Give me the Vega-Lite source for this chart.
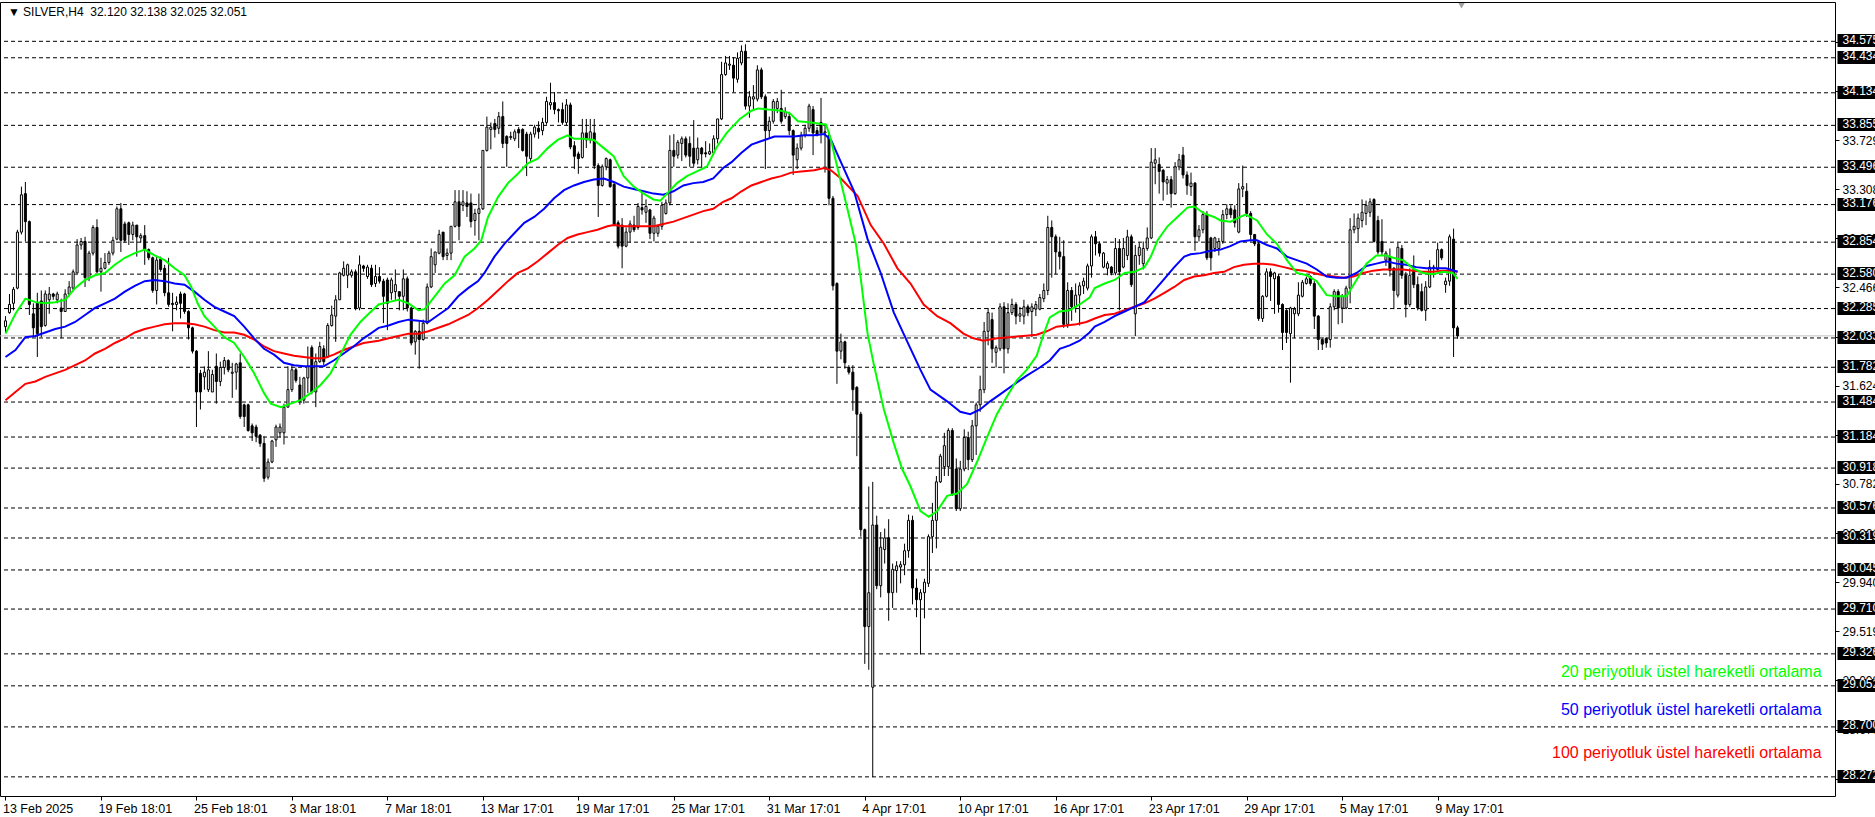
{
"$schema": "https://vega.github.io/schema/vega-lite/v6.json",
"width": 1835, "height": 794,
"autosize": {"type": "none"},
"padding": {"left": 0, "top": 2, "right": 40, "bottom": 21},
"background": "white",
"config": {
  "view": {"stroke": "black", "strokeWidth": 1},
  "font": "Liberation Sans",
  "axis": {"labelFont": "Liberation Sans", "labelFontSize": 12, "labelColor": "black", "tickColor": "black", "grid": false, "domain": false}
},
"datasets": {
"header": [{"t":"▼  SILVER,H4 \u00a032.120 32.138 32.025 32.051"}],
"levels": [{"p":34.575},{"p":34.434},{"p":34.134},{"p":33.855},{"p":33.496},{"p":33.176},{"p":32.854},{"p":32.580},{"p":32.285},{"p":32.033},{"p":31.782},{"p":31.484},{"p":31.184},{"p":30.918},{"p":30.576},{"p":30.319},{"p":30.045},{"p":29.710},{"p":29.326},{"p":29.052},{"p":28.700},{"p":28.272}],
"bid": [{"p":32.051}],
"candles": [
{"i":0,"o":32.13,"h":32.22,"l":32.08,"c":32.18},{"i":1,"o":32.25,"h":32.41,"l":32.24,"c":32.32},{"i":2,"o":32.33,"h":32.47,"l":32.27,"c":32.45},{"i":3,"o":32.46,"h":32.96,"l":32.45,"c":32.94},{"i":4,"o":32.94,"h":33.33,"l":32.92,"c":33.26},{"i":5,"o":33.27,"h":33.37,"l":32.86,"c":33.03},{"i":6,"o":33.03,"h":33.04,"l":32.23,"c":32.32},{"i":7,"o":32.24,"h":32.33,"l":32.04,"c":32.12},{"i":8,"o":32.33,"h":32.42,"l":31.87,"c":32.07},{"i":9,"o":32.35,"h":32.44,"l":32.04,"c":32.13},
{"i":10,"o":32.14,"h":32.44,"l":32.13,"c":32.41},{"i":11,"o":32.36,"h":32.47,"l":32.24,"c":32.41},{"i":12,"o":32.41,"h":32.42,"l":32.36,"c":32.39},{"i":13,"o":32.36,"h":32.43,"l":32.33,"c":32.41},{"i":14,"o":32.29,"h":32.37,"l":32.03,"c":32.26},{"i":15,"o":32.26,"h":32.45,"l":32.26,"c":32.41},{"i":16,"o":32.41,"h":32.52,"l":32.39,"c":32.47},{"i":17,"o":32.46,"h":32.62,"l":32.44,"c":32.60},{"i":18,"o":32.59,"h":32.88,"l":32.59,"c":32.83},{"i":19,"o":32.83,"h":32.89,"l":32.79,"c":32.86},
{"i":20,"o":32.86,"h":32.90,"l":32.47,"c":32.55},{"i":21,"o":32.55,"h":32.78,"l":32.52,"c":32.76},{"i":22,"o":32.76,"h":33.00,"l":32.74,"c":32.98},{"i":23,"o":32.98,"h":33.05,"l":32.59,"c":32.60},{"i":24,"o":32.60,"h":32.72,"l":32.43,"c":32.63},{"i":25,"o":32.63,"h":32.76,"l":32.62,"c":32.68},{"i":26,"o":32.68,"h":32.78,"l":32.66,"c":32.76},{"i":27,"o":32.76,"h":32.90,"l":32.74,"c":32.87},{"i":28,"o":32.88,"h":33.16,"l":32.87,"c":33.14},{"i":29,"o":33.14,"h":33.19,"l":32.77,"c":32.87},
{"i":30,"o":33.01,"h":33.03,"l":32.85,"c":32.87},{"i":31,"o":33.02,"h":33.03,"l":32.83,"c":32.92},{"i":32,"o":32.92,"h":33.03,"l":32.87,"c":33.00},{"i":33,"o":33.00,"h":33.00,"l":32.73,"c":32.90},{"i":34,"o":32.89,"h":32.93,"l":32.85,"c":32.91},{"i":35,"o":32.91,"h":33.00,"l":32.66,"c":32.79},{"i":36,"o":32.79,"h":32.80,"l":32.70,"c":32.72},{"i":37,"o":32.72,"h":32.73,"l":32.42,"c":32.44},{"i":38,"o":32.44,"h":32.73,"l":32.32,"c":32.70},{"i":39,"o":32.71,"h":32.73,"l":32.60,"c":32.62},
{"i":40,"o":32.63,"h":32.66,"l":32.39,"c":32.42},{"i":41,"o":32.42,"h":32.72,"l":32.30,"c":32.32},{"i":42,"o":32.33,"h":32.42,"l":32.09,"c":32.32},{"i":43,"o":32.32,"h":32.39,"l":32.27,"c":32.34},{"i":44,"o":32.41,"h":32.43,"l":32.20,"c":32.33},{"i":45,"o":32.41,"h":32.42,"l":32.24,"c":32.26},{"i":46,"o":32.26,"h":32.27,"l":32.02,"c":32.12},{"i":47,"o":32.12,"h":32.13,"l":31.90,"c":31.92},{"i":48,"o":31.92,"h":31.93,"l":31.27,"c":31.57},{"i":49,"o":31.73,"h":31.76,"l":31.42,"c":31.57},
{"i":50,"o":31.70,"h":31.79,"l":31.59,"c":31.74},{"i":51,"o":31.59,"h":31.92,"l":31.57,"c":31.76},{"i":52,"o":31.57,"h":31.76,"l":31.57,"c":31.72},{"i":53,"o":31.79,"h":31.90,"l":31.47,"c":31.66},{"i":54,"o":31.66,"h":31.83,"l":31.62,"c":31.78},{"i":55,"o":31.78,"h":31.87,"l":31.72,"c":31.84},{"i":56,"o":31.84,"h":31.85,"l":31.74,"c":31.76},{"i":57,"o":31.73,"h":31.82,"l":31.52,"c":31.74},{"i":58,"o":31.74,"h":31.82,"l":31.59,"c":31.81},{"i":59,"o":31.82,"h":31.90,"l":31.34,"c":31.36},
{"i":60,"o":31.46,"h":31.47,"l":31.27,"c":31.36},{"i":61,"o":31.46,"h":31.47,"l":31.23,"c":31.24},{"i":62,"o":31.28,"h":31.30,"l":31.15,"c":31.22},{"i":63,"o":31.27,"h":31.29,"l":31.14,"c":31.19},{"i":64,"o":31.20,"h":31.21,"l":31.10,"c":31.13},{"i":65,"o":31.13,"h":31.19,"l":30.80,"c":30.83},{"i":66,"o":30.84,"h":31.00,"l":30.82,"c":30.97},{"i":67,"o":30.97,"h":31.16,"l":30.96,"c":31.15},{"i":68,"o":31.16,"h":31.29,"l":31.10,"c":31.27},{"i":69,"o":31.22,"h":31.30,"l":31.18,"c":31.27},
{"i":70,"o":31.22,"h":31.47,"l":31.12,"c":31.44},{"i":71,"o":31.44,"h":31.79,"l":31.44,"c":31.59},{"i":72,"o":31.59,"h":31.80,"l":31.57,"c":31.76},{"i":73,"o":31.76,"h":31.78,"l":31.65,"c":31.67},{"i":74,"o":31.63,"h":31.70,"l":31.46,"c":31.49},{"i":75,"o":31.50,"h":31.70,"l":31.47,"c":31.69},{"i":76,"o":31.69,"h":31.96,"l":31.56,"c":31.79},{"i":77,"o":31.95,"h":31.97,"l":31.55,"c":31.57},{"i":78,"o":31.57,"h":31.90,"l":31.44,"c":31.83},{"i":79,"o":31.83,"h":32.00,"l":31.82,"c":31.96},
{"i":80,"o":31.94,"h":31.97,"l":31.80,"c":31.83},{"i":81,"o":31.87,"h":32.16,"l":31.86,"c":32.14},{"i":82,"o":32.14,"h":32.31,"l":32.13,"c":32.23},{"i":83,"o":32.22,"h":32.40,"l":32.00,"c":32.36},{"i":84,"o":32.36,"h":32.60,"l":32.36,"c":32.59},{"i":85,"o":32.57,"h":32.69,"l":32.56,"c":32.63},{"i":86,"o":32.57,"h":32.67,"l":32.46,"c":32.66},{"i":87,"o":32.57,"h":32.62,"l":32.55,"c":32.60},{"i":88,"o":32.60,"h":32.62,"l":32.27,"c":32.29},{"i":89,"o":32.29,"h":32.74,"l":32.27,"c":32.66},
{"i":90,"o":32.65,"h":32.66,"l":32.60,"c":32.63},{"i":91,"o":32.56,"h":32.66,"l":32.54,"c":32.64},{"i":92,"o":32.63,"h":32.66,"l":32.47,"c":32.49},{"i":93,"o":32.50,"h":32.66,"l":32.47,"c":32.56},{"i":94,"o":32.56,"h":32.64,"l":32.50,"c":32.52},{"i":95,"o":32.52,"h":32.54,"l":32.16,"c":32.39},{"i":96,"o":32.53,"h":32.55,"l":32.10,"c":32.33},{"i":97,"o":32.42,"h":32.55,"l":32.36,"c":32.53},{"i":98,"o":32.43,"h":32.62,"l":32.36,"c":32.49},{"i":99,"o":32.43,"h":32.43,"l":32.27,"c":32.39},
{"i":100,"o":32.39,"h":32.62,"l":32.27,"c":32.54},{"i":101,"o":32.54,"h":32.56,"l":32.26,"c":32.29},{"i":102,"o":32.29,"h":32.30,"l":31.97,"c":31.99},{"i":103,"o":32.00,"h":32.10,"l":31.89,"c":32.09},{"i":104,"o":32.09,"h":32.17,"l":31.77,"c":32.02},{"i":105,"o":32.02,"h":32.19,"l":32.01,"c":32.16},{"i":106,"o":32.16,"h":32.50,"l":32.15,"c":32.47},{"i":107,"o":32.47,"h":32.80,"l":32.46,"c":32.73},{"i":108,"o":32.66,"h":32.77,"l":32.59,"c":32.77},{"i":109,"o":32.76,"h":32.96,"l":32.75,"c":32.92},
{"i":110,"o":32.94,"h":32.94,"l":32.70,"c":32.73},{"i":111,"o":32.74,"h":32.80,"l":32.70,"c":32.76},{"i":112,"o":32.76,"h":32.99,"l":32.70,"c":32.99},{"i":113,"o":32.99,"h":33.30,"l":32.98,"c":33.20},{"i":114,"o":33.20,"h":33.30,"l":32.87,"c":32.99},{"i":115,"o":33.17,"h":33.30,"l":33.12,"c":33.20},{"i":116,"o":33.19,"h":33.29,"l":33.07,"c":33.16},{"i":117,"o":33.19,"h":33.27,"l":32.98,"c":33.03},{"i":118,"o":33.04,"h":33.14,"l":32.91,"c":33.10},{"i":119,"o":33.10,"h":33.27,"l":32.87,"c":33.14},
{"i":120,"o":33.14,"h":33.64,"l":33.13,"c":33.64},{"i":121,"o":33.64,"h":33.93,"l":33.63,"c":33.84},{"i":122,"o":33.82,"h":33.88,"l":33.65,"c":33.84},{"i":123,"o":33.87,"h":33.91,"l":33.75,"c":33.82},{"i":124,"o":33.83,"h":33.97,"l":33.78,"c":33.93},{"i":125,"o":33.93,"h":34.06,"l":33.66,"c":33.70},{"i":126,"o":33.76,"h":33.77,"l":33.50,"c":33.70},{"i":127,"o":33.75,"h":33.80,"l":33.73,"c":33.76},{"i":128,"o":33.74,"h":33.82,"l":33.72,"c":33.80},{"i":129,"o":33.82,"h":33.84,"l":33.66,"c":33.79},
{"i":130,"o":33.82,"h":33.83,"l":33.63,"c":33.64},{"i":131,"o":33.78,"h":33.80,"l":33.42,"c":33.59},{"i":132,"o":33.57,"h":33.80,"l":33.55,"c":33.78},{"i":133,"o":33.78,"h":33.86,"l":33.75,"c":33.84},{"i":134,"o":33.83,"h":33.89,"l":33.74,"c":33.80},{"i":135,"o":33.81,"h":33.92,"l":33.77,"c":33.88},{"i":136,"o":33.88,"h":34.10,"l":33.86,"c":34.06},{"i":137,"o":34.03,"h":34.22,"l":33.99,"c":34.05},{"i":138,"o":34.05,"h":34.14,"l":33.95,"c":33.99},{"i":139,"o":33.99,"h":34.00,"l":33.88,"c":33.98},
{"i":140,"o":33.99,"h":34.05,"l":33.86,"c":33.88},{"i":141,"o":33.88,"h":34.08,"l":33.85,"c":34.03},{"i":142,"o":34.03,"h":34.05,"l":33.65,"c":33.67},{"i":143,"o":33.68,"h":33.72,"l":33.48,"c":33.59},{"i":144,"o":33.61,"h":33.63,"l":33.44,"c":33.57},{"i":145,"o":33.58,"h":33.91,"l":33.57,"c":33.79},{"i":146,"o":33.79,"h":33.91,"l":33.66,"c":33.73},{"i":147,"o":33.73,"h":33.91,"l":33.70,"c":33.80},{"i":148,"o":33.79,"h":33.91,"l":33.48,"c":33.51},{"i":149,"o":33.51,"h":33.53,"l":33.07,"c":33.34},
{"i":150,"o":33.34,"h":33.52,"l":33.33,"c":33.50},{"i":151,"o":33.50,"h":33.58,"l":33.47,"c":33.57},{"i":152,"o":33.56,"h":33.57,"l":33.32,"c":33.33},{"i":153,"o":33.35,"h":33.36,"l":32.99,"c":33.00},{"i":154,"o":33.02,"h":33.04,"l":32.80,"c":32.82},{"i":155,"o":33.00,"h":33.06,"l":32.63,"c":32.82},{"i":156,"o":32.82,"h":32.98,"l":32.81,"c":32.94},{"i":157,"o":32.94,"h":33.04,"l":32.85,"c":33.01},{"i":158,"o":33.00,"h":33.08,"l":32.94,"c":32.96},{"i":159,"o":32.98,"h":33.19,"l":32.96,"c":33.16},
{"i":160,"o":33.15,"h":33.29,"l":33.09,"c":33.13},{"i":161,"o":33.11,"h":33.22,"l":33.02,"c":33.16},{"i":162,"o":33.13,"h":33.14,"l":32.88,"c":32.93},{"i":163,"o":32.93,"h":33.08,"l":32.86,"c":33.06},{"i":164,"o":32.93,"h":33.00,"l":32.90,"c":32.99},{"i":165,"o":32.99,"h":33.20,"l":32.96,"c":33.17},{"i":166,"o":33.10,"h":33.22,"l":33.09,"c":33.19},{"i":167,"o":33.19,"h":33.77,"l":33.17,"c":33.64},{"i":168,"o":33.64,"h":33.78,"l":33.50,"c":33.59},{"i":169,"o":33.60,"h":33.73,"l":33.57,"c":33.71},
{"i":170,"o":33.70,"h":33.76,"l":33.55,"c":33.74},{"i":171,"o":33.74,"h":33.76,"l":33.58,"c":33.60},{"i":172,"o":33.70,"h":33.76,"l":33.50,"c":33.59},{"i":173,"o":33.66,"h":33.90,"l":33.50,"c":33.53},{"i":174,"o":33.56,"h":33.75,"l":33.52,"c":33.66},{"i":175,"o":33.66,"h":33.67,"l":33.49,"c":33.61},{"i":176,"o":33.62,"h":33.72,"l":33.58,"c":33.61},{"i":177,"o":33.61,"h":33.70,"l":33.60,"c":33.63},{"i":178,"o":33.62,"h":33.77,"l":33.60,"c":33.74},{"i":179,"o":33.74,"h":33.91,"l":33.70,"c":33.91},
{"i":180,"o":33.91,"h":34.40,"l":33.90,"c":34.29},{"i":181,"o":34.29,"h":34.45,"l":34.28,"c":34.39},{"i":182,"o":34.37,"h":34.45,"l":34.33,"c":34.38},{"i":183,"o":34.37,"h":34.44,"l":34.14,"c":34.26},{"i":184,"o":34.25,"h":34.48,"l":34.22,"c":34.43},{"i":185,"o":34.39,"h":34.54,"l":34.37,"c":34.49},{"i":186,"o":34.49,"h":34.55,"l":33.99,"c":34.02},{"i":187,"o":34.02,"h":34.15,"l":33.92,"c":34.10},{"i":188,"o":34.08,"h":34.20,"l":33.98,"c":34.10},{"i":189,"o":34.08,"h":34.37,"l":34.06,"c":34.33},
{"i":190,"o":34.33,"h":34.35,"l":34.08,"c":34.10},{"i":191,"o":34.10,"h":34.12,"l":33.48,"c":33.81},{"i":192,"o":33.81,"h":33.93,"l":33.75,"c":33.89},{"i":193,"o":33.89,"h":34.08,"l":33.87,"c":34.06},{"i":194,"o":34.00,"h":34.09,"l":33.96,"c":34.06},{"i":195,"o":34.00,"h":34.16,"l":33.87,"c":33.89},{"i":196,"o":33.93,"h":34.01,"l":33.91,"c":33.97},{"i":197,"o":33.93,"h":33.97,"l":33.77,"c":33.81},{"i":198,"o":33.81,"h":33.82,"l":33.43,"c":33.60},{"i":199,"o":33.56,"h":33.70,"l":33.48,"c":33.66},
{"i":200,"o":33.66,"h":33.80,"l":33.64,"c":33.77},{"i":201,"o":33.77,"h":33.86,"l":33.75,"c":33.83},{"i":202,"o":33.83,"h":34.04,"l":33.80,"c":34.02},{"i":203,"o":33.99,"h":34.02,"l":33.60,"c":33.79},{"i":204,"o":33.81,"h":33.84,"l":33.76,"c":33.77},{"i":205,"o":33.88,"h":34.09,"l":33.70,"c":33.79},{"i":206,"o":33.79,"h":33.87,"l":33.45,"c":33.80},{"i":207,"o":33.77,"h":33.80,"l":33.17,"c":33.23},{"i":208,"o":33.23,"h":33.25,"l":32.44,"c":32.48},{"i":209,"o":32.50,"h":32.51,"l":31.64,"c":31.92},
{"i":210,"o":31.92,"h":32.07,"l":31.85,"c":32.00},{"i":211,"o":32.00,"h":32.01,"l":31.77,"c":31.82},{"i":212,"o":31.78,"h":31.80,"l":31.72,"c":31.74},{"i":213,"o":31.74,"h":31.80,"l":31.41,"c":31.59},{"i":214,"o":31.61,"h":31.62,"l":31.02,"c":31.38},{"i":215,"o":31.38,"h":31.40,"l":30.33,"c":30.39},{"i":216,"o":30.39,"h":30.40,"l":29.24,"c":29.56},{"i":217,"o":29.56,"h":30.76,"l":29.19,"c":29.85},{"i":218,"o":29.04,"h":30.80,"l":28.27,"c":30.43},{"i":219,"o":30.43,"h":30.51,"l":29.88,"c":29.91},
{"i":220,"o":29.91,"h":30.37,"l":29.81,"c":30.24},{"i":221,"o":30.22,"h":30.40,"l":30.10,"c":30.32},{"i":222,"o":30.32,"h":30.48,"l":29.61,"c":29.85},{"i":223,"o":29.85,"h":30.10,"l":29.72,"c":30.05},{"i":224,"o":30.04,"h":30.12,"l":29.85,"c":30.08},{"i":225,"o":30.07,"h":30.12,"l":29.93,"c":30.09},{"i":226,"o":30.09,"h":30.27,"l":30.00,"c":30.21},{"i":227,"o":30.21,"h":30.52,"l":30.15,"c":30.47},{"i":228,"o":30.47,"h":30.51,"l":29.75,"c":29.89},{"i":229,"o":29.89,"h":29.97,"l":29.64,"c":29.79},
{"i":230,"o":29.79,"h":29.88,"l":29.32,"c":29.85},{"i":231,"o":29.85,"h":29.97,"l":29.63,"c":29.94},{"i":232,"o":29.93,"h":30.35,"l":29.90,"c":30.33},{"i":233,"o":30.33,"h":30.62,"l":30.19,"c":30.47},{"i":234,"o":30.47,"h":30.85,"l":30.23,"c":30.80},{"i":235,"o":30.80,"h":31.04,"l":30.79,"c":31.02},{"i":236,"o":30.93,"h":31.22,"l":30.85,"c":31.11},{"i":237,"o":30.93,"h":31.26,"l":30.85,"c":31.24},{"i":238,"o":31.24,"h":31.26,"l":30.68,"c":30.70},{"i":239,"o":30.91,"h":31.00,"l":30.55,"c":30.57},
{"i":240,"o":30.57,"h":30.98,"l":30.55,"c":30.91},{"i":241,"o":30.91,"h":31.25,"l":30.89,"c":31.18},{"i":242,"o":31.18,"h":31.23,"l":30.90,"c":30.99},{"i":243,"o":30.99,"h":31.33,"l":30.97,"c":31.28},{"i":244,"o":31.28,"h":31.48,"l":31.03,"c":31.46},{"i":245,"o":31.46,"h":31.71,"l":31.40,"c":31.59},{"i":246,"o":31.59,"h":32.17,"l":31.56,"c":32.09},{"i":247,"o":32.09,"h":32.29,"l":31.97,"c":32.25},{"i":248,"o":32.19,"h":32.25,"l":31.82,"c":31.94},{"i":249,"o":31.91,"h":31.97,"l":31.78,"c":31.95},
{"i":250,"o":31.94,"h":32.33,"l":31.92,"c":32.30},{"i":251,"o":32.30,"h":32.34,"l":31.73,"c":31.94},{"i":252,"o":31.94,"h":32.33,"l":31.90,"c":32.25},{"i":253,"o":32.25,"h":32.37,"l":32.23,"c":32.32},{"i":254,"o":32.32,"h":32.34,"l":32.15,"c":32.22},{"i":255,"o":32.22,"h":32.30,"l":32.17,"c":32.24},{"i":256,"o":32.22,"h":32.36,"l":32.15,"c":32.30},{"i":257,"o":32.30,"h":32.32,"l":32.22,"c":32.25},{"i":258,"o":32.26,"h":32.33,"l":32.04,"c":32.30},{"i":259,"o":32.28,"h":32.35,"l":32.22,"c":32.32},
{"i":260,"o":32.28,"h":32.41,"l":32.27,"c":32.38},{"i":261,"o":32.37,"h":32.50,"l":32.34,"c":32.44},{"i":262,"o":32.44,"h":33.08,"l":32.40,"c":32.98},{"i":263,"o":32.98,"h":33.04,"l":32.55,"c":32.90},{"i":264,"o":32.90,"h":32.92,"l":32.58,"c":32.77},{"i":265,"o":32.77,"h":32.90,"l":32.62,"c":32.73},{"i":266,"o":32.73,"h":32.87,"l":32.12,"c":32.15},{"i":267,"o":32.15,"h":32.51,"l":32.12,"c":32.44},{"i":268,"o":32.44,"h":32.47,"l":32.18,"c":32.30},{"i":269,"o":32.30,"h":32.50,"l":32.25,"c":32.40},
{"i":270,"o":32.40,"h":32.51,"l":32.14,"c":32.48},{"i":271,"o":32.48,"h":32.55,"l":32.41,"c":32.52},{"i":272,"o":32.46,"h":32.67,"l":32.44,"c":32.65},{"i":273,"o":32.65,"h":32.92,"l":32.55,"c":32.90},{"i":274,"o":32.90,"h":32.95,"l":32.74,"c":32.84},{"i":275,"o":32.84,"h":32.86,"l":32.73,"c":32.76},{"i":276,"o":32.64,"h":32.77,"l":32.63,"c":32.76},{"i":277,"o":32.63,"h":32.69,"l":32.57,"c":32.67},{"i":278,"o":32.64,"h":32.65,"l":32.57,"c":32.59},{"i":279,"o":32.59,"h":32.89,"l":32.57,"c":32.80},
{"i":280,"o":32.80,"h":32.88,"l":32.27,"c":32.60},{"i":281,"o":32.64,"h":32.89,"l":32.63,"c":32.80},{"i":282,"o":32.74,"h":32.96,"l":32.70,"c":32.90},{"i":283,"o":32.90,"h":32.92,"l":32.47,"c":32.49},{"i":284,"o":32.24,"h":32.83,"l":32.05,"c":32.74},{"i":285,"o":32.74,"h":32.85,"l":32.66,"c":32.81},{"i":286,"o":32.67,"h":32.86,"l":32.62,"c":32.80},{"i":287,"o":32.80,"h":32.98,"l":32.78,"c":32.89},{"i":288,"o":32.89,"h":33.66,"l":32.88,"c":33.54},{"i":289,"o":33.53,"h":33.66,"l":33.35,"c":33.56},
{"i":290,"o":33.52,"h":33.58,"l":33.27,"c":33.46},{"i":291,"o":33.47,"h":33.48,"l":33.21,"c":33.37},{"i":292,"o":33.36,"h":33.42,"l":33.26,"c":33.39},{"i":293,"o":33.39,"h":33.42,"l":33.15,"c":33.27},{"i":294,"o":33.27,"h":33.54,"l":33.26,"c":33.50},{"i":295,"o":33.50,"h":33.61,"l":33.47,"c":33.56},{"i":296,"o":33.60,"h":33.67,"l":33.40,"c":33.43},{"i":297,"o":33.43,"h":33.46,"l":33.26,"c":33.34},{"i":298,"o":33.33,"h":33.45,"l":33.25,"c":33.36},{"i":299,"o":33.36,"h":33.37,"l":32.78,"c":32.90},
{"i":300,"o":32.90,"h":33.00,"l":32.86,"c":32.96},{"i":301,"o":32.96,"h":33.12,"l":32.93,"c":33.09},{"i":302,"o":33.09,"h":33.12,"l":32.70,"c":32.72},{"i":303,"o":32.89,"h":32.90,"l":32.61,"c":32.72},{"i":304,"o":32.80,"h":32.90,"l":32.77,"c":32.89},{"i":305,"o":32.80,"h":32.89,"l":32.74,"c":32.86},{"i":306,"o":32.86,"h":33.13,"l":32.84,"c":33.09},{"i":307,"o":33.09,"h":33.18,"l":33.05,"c":33.14},{"i":308,"o":33.14,"h":33.17,"l":33.06,"c":33.09},{"i":309,"o":33.13,"h":33.17,"l":32.98,"c":33.02},
{"i":310,"o":32.94,"h":33.36,"l":32.93,"c":33.31},{"i":311,"o":33.31,"h":33.51,"l":33.24,"c":33.33},{"i":312,"o":33.29,"h":33.36,"l":33.07,"c":33.10},{"i":313,"o":33.10,"h":33.12,"l":32.86,"c":32.92},{"i":314,"o":32.92,"h":32.92,"l":32.82,"c":32.84},{"i":315,"o":32.84,"h":32.86,"l":32.18,"c":32.20},{"i":316,"o":32.20,"h":32.40,"l":32.17,"c":32.39},{"i":317,"o":32.39,"h":32.63,"l":32.38,"c":32.60},{"i":318,"o":32.60,"h":32.63,"l":32.35,"c":32.56},{"i":319,"o":32.54,"h":32.60,"l":32.24,"c":32.59},
{"i":320,"o":32.56,"h":32.58,"l":32.25,"c":32.32},{"i":321,"o":32.32,"h":32.33,"l":31.93,"c":32.08},{"i":322,"o":32.27,"h":32.28,"l":31.99,"c":32.08},{"i":323,"o":32.07,"h":32.30,"l":31.65,"c":32.29},{"i":324,"o":32.24,"h":32.30,"l":32.03,"c":32.28},{"i":325,"o":32.24,"h":32.51,"l":32.22,"c":32.40},{"i":326,"o":32.39,"h":32.53,"l":32.38,"c":32.51},{"i":327,"o":32.50,"h":32.56,"l":32.49,"c":32.54},{"i":328,"o":32.56,"h":32.57,"l":32.48,"c":32.50},{"i":329,"o":32.50,"h":32.52,"l":32.11,"c":32.22},
{"i":330,"o":32.22,"h":32.23,"l":31.93,"c":32.02},{"i":331,"o":32.02,"h":32.03,"l":31.93,"c":31.98},{"i":332,"o":32.03,"h":32.04,"l":31.95,"c":31.99},{"i":333,"o":32.02,"h":32.33,"l":31.95,"c":32.30},{"i":334,"o":32.30,"h":32.45,"l":32.27,"c":32.43},{"i":335,"o":32.43,"h":32.45,"l":32.15,"c":32.29},{"i":336,"o":32.29,"h":32.41,"l":32.16,"c":32.39},{"i":337,"o":32.29,"h":32.48,"l":32.28,"c":32.46},{"i":338,"o":32.46,"h":33.06,"l":32.33,"c":32.96},{"i":339,"o":32.96,"h":33.10,"l":32.93,"c":32.99},
{"i":340,"o":32.97,"h":33.10,"l":32.86,"c":33.06},{"i":341,"o":33.04,"h":33.22,"l":32.98,"c":33.11},{"i":342,"o":33.10,"h":33.21,"l":33.00,"c":33.17},{"i":343,"o":33.11,"h":33.23,"l":33.07,"c":33.20},{"i":344,"o":33.22,"h":33.23,"l":32.85,"c":32.86},{"i":345,"o":33.04,"h":33.08,"l":32.75,"c":32.77},{"i":346,"o":32.86,"h":33.05,"l":32.74,"c":32.77},{"i":347,"o":32.70,"h":32.78,"l":32.65,"c":32.76},{"i":348,"o":32.73,"h":32.80,"l":32.56,"c":32.61},{"i":349,"o":32.63,"h":32.64,"l":32.28,"c":32.44},
{"i":350,"o":32.40,"h":32.85,"l":32.38,"c":32.81},{"i":351,"o":32.80,"h":32.83,"l":32.54,"c":32.57},{"i":352,"o":32.57,"h":32.60,"l":32.21,"c":32.32},{"i":353,"o":32.32,"h":32.63,"l":32.30,"c":32.57},{"i":354,"o":32.62,"h":32.74,"l":32.46,"c":32.49},{"i":355,"o":32.49,"h":32.56,"l":32.27,"c":32.29},{"i":356,"o":32.43,"h":32.50,"l":32.26,"c":32.27},{"i":357,"o":32.27,"h":32.52,"l":32.18,"c":32.47},{"i":358,"o":32.47,"h":32.70,"l":32.46,"c":32.64},{"i":359,"o":32.63,"h":32.66,"l":32.55,"c":32.64},
{"i":360,"o":32.62,"h":32.85,"l":32.61,"c":32.79},{"i":361,"o":32.79,"h":32.80,"l":32.70,"c":32.72},{"i":362,"o":32.49,"h":32.55,"l":32.42,"c":32.52},{"i":363,"o":32.52,"h":32.92,"l":32.48,"c":32.90},{"i":364,"o":32.88,"h":32.97,"l":31.87,"c":32.12},{"i":365,"o":32.120,"h":32.138,"l":32.025,"c":32.051}
],
"ema20": [{"i":0,"v":32.07},{"i":2.5,"v":32.24},{"i":5,"v":32.37},{"i":7.5,"v":32.34},{"i":10,"v":32.33},{"i":12.5,"v":32.34},{"i":15,"v":32.36},{"i":17.5,"v":32.46},{"i":20,"v":32.53},{"i":22.5,"v":32.57},{"i":25,"v":32.59},{"i":27.5,"v":32.66},{"i":30,"v":32.72},{"i":32.5,"v":32.76},{"i":35,"v":32.79},{"i":37.5,"v":32.74},{"i":40,"v":32.70},{"i":42.5,"v":32.63},{"i":45,"v":32.57},{"i":46.7,"v":32.47},{"i":48.3,"v":32.33},{"i":50,"v":32.22},{"i":52.5,"v":32.13},{"i":55,"v":32.04},{"i":57.5,"v":31.99},{"i":60,"v":31.87},{"i":62.5,"v":31.73},{"i":65,"v":31.56},{"i":66.7,"v":31.47},{"i":69.2,"v":31.44},{"i":71.7,"v":31.47},{"i":74.2,"v":31.50},{"i":76.7,"v":31.56},{"i":79.2,"v":31.63},{"i":81.7,"v":31.73},{"i":84.2,"v":31.89},{"i":86.7,"v":32.06},{"i":89.2,"v":32.17},{"i":91.3,"v":32.24},{"i":93.8,"v":32.32},{"i":96.3,"v":32.34},{"i":98.8,"v":32.36},{"i":101.3,"v":32.33},{"i":103.8,"v":32.27},{"i":105.4,"v":32.28},{"i":107.9,"v":32.39},{"i":110.4,"v":32.50},{"i":112.9,"v":32.57},{"i":115.4,"v":32.73},{"i":117.9,"v":32.80},{"i":119.6,"v":32.87},{"i":121.3,"v":33.07},{"i":123.8,"v":33.24},{"i":126.3,"v":33.36},{"i":128.8,"v":33.44},{"i":131.3,"v":33.53},{"i":133.8,"v":33.57},{"i":136.3,"v":33.66},{"i":138.8,"v":33.73},{"i":141.3,"v":33.77},{"i":142.9,"v":33.74},{"i":145.4,"v":33.74},{"i":147.9,"v":33.73},{"i":150.4,"v":33.66},{"i":152.9,"v":33.59},{"i":155.4,"v":33.42},{"i":157.9,"v":33.33},{"i":160.4,"v":33.27},{"i":162.9,"v":33.22},{"i":164.6,"v":33.21},{"i":166.3,"v":33.27},{"i":168.8,"v":33.36},{"i":171.3,"v":33.42},{"i":173.8,"v":33.46},{"i":176.3,"v":33.50},{"i":178.8,"v":33.67},{"i":181.3,"v":33.79},{"i":184.6,"v":33.91},{"i":187.5,"v":33.98},{"i":189.2,"v":34.00},{"i":191.7,"v":33.99},{"i":195,"v":33.98},{"i":197.1,"v":33.96},{"i":199.2,"v":33.89},{"i":202.5,"v":33.88},{"i":206.3,"v":33.86},{"i":207.5,"v":33.73},{"i":209.2,"v":33.48},{"i":211.7,"v":33.13},{"i":213.8,"v":32.83},{"i":215,"v":32.54},{"i":216.7,"v":32.07},{"i":218.3,"v":31.80},{"i":220.8,"v":31.42},{"i":223.3,"v":31.13},{"i":225.4,"v":30.91},{"i":227.5,"v":30.76},{"i":230,"v":30.55},{"i":232.1,"v":30.50},{"i":234.2,"v":30.55},{"i":236.7,"v":30.68},{"i":239.2,"v":30.70},{"i":241.7,"v":30.78},{"i":244.2,"v":30.97},{"i":246.7,"v":31.18},{"i":249.2,"v":31.38},{"i":251.7,"v":31.53},{"i":254.2,"v":31.67},{"i":256.7,"v":31.76},{"i":259.2,"v":31.88},{"i":260.8,"v":32.05},{"i":262.5,"v":32.21},{"i":265,"v":32.26},{"i":267.5,"v":32.27},{"i":270,"v":32.32},{"i":272.5,"v":32.38},{"i":273.8,"v":32.46},{"i":276.3,"v":32.50},{"i":278.8,"v":32.53},{"i":281.3,"v":32.59},{"i":283.8,"v":32.60},{"i":286.3,"v":32.64},{"i":287.9,"v":32.73},{"i":289.6,"v":32.87},{"i":292.1,"v":32.99},{"i":294.6,"v":33.07},{"i":297.1,"v":33.15},{"i":298.8,"v":33.16},{"i":301.3,"v":33.10},{"i":303.8,"v":33.07},{"i":305.4,"v":33.04},{"i":307.9,"v":33.03},{"i":310.4,"v":33.07},{"i":311.7,"v":33.09},{"i":314.6,"v":33.04},{"i":317.1,"v":32.92},{"i":319.6,"v":32.84},{"i":322.1,"v":32.70},{"i":324.6,"v":32.59},{"i":327.1,"v":32.57},{"i":329.6,"v":32.52},{"i":332.1,"v":32.40},{"i":334.6,"v":32.39},{"i":337.1,"v":32.39},{"i":339.6,"v":32.53},{"i":342.1,"v":32.67},{"i":344.6,"v":32.74},{"i":347.1,"v":32.74},{"i":348.8,"v":32.72},{"i":351.3,"v":32.70},{"i":353.8,"v":32.63},{"i":356.3,"v":32.59},{"i":358.8,"v":32.58},{"i":361.3,"v":32.60},{"i":363.8,"v":32.59},{"i":365,"v":32.54}],
"ema50": [{"i":0,"v":31.87},{"i":2.5,"v":31.93},{"i":5,"v":32.04},{"i":7.5,"v":32.05},{"i":10,"v":32.08},{"i":12.5,"v":32.11},{"i":15,"v":32.13},{"i":17.5,"v":32.17},{"i":20,"v":32.23},{"i":22.5,"v":32.29},{"i":25,"v":32.33},{"i":27.5,"v":32.37},{"i":30,"v":32.43},{"i":32.5,"v":32.48},{"i":35,"v":32.52},{"i":37.5,"v":32.53},{"i":40,"v":32.52},{"i":42.5,"v":32.50},{"i":45,"v":32.49},{"i":47.5,"v":32.43},{"i":50,"v":32.36},{"i":52.5,"v":32.30},{"i":55,"v":32.26},{"i":57.5,"v":32.22},{"i":60,"v":32.13},{"i":62.5,"v":32.03},{"i":65,"v":31.94},{"i":67.5,"v":31.89},{"i":70,"v":31.82},{"i":72.5,"v":31.80},{"i":75,"v":31.79},{"i":77.5,"v":31.79},{"i":80,"v":31.79},{"i":82.5,"v":31.84},{"i":85,"v":31.90},{"i":87.5,"v":31.96},{"i":90,"v":32.03},{"i":91.3,"v":32.06},{"i":93.8,"v":32.12},{"i":96.3,"v":32.14},{"i":98.8,"v":32.17},{"i":101.3,"v":32.19},{"i":103.8,"v":32.18},{"i":106.3,"v":32.17},{"i":108.8,"v":32.23},{"i":111.3,"v":32.29},{"i":113.8,"v":32.39},{"i":116.3,"v":32.46},{"i":118.8,"v":32.52},{"i":120.4,"v":32.59},{"i":122.9,"v":32.73},{"i":125.4,"v":32.84},{"i":127.9,"v":32.93},{"i":130.4,"v":33.02},{"i":132.9,"v":33.07},{"i":135.4,"v":33.14},{"i":137.9,"v":33.23},{"i":140.4,"v":33.30},{"i":142.9,"v":33.34},{"i":145.4,"v":33.37},{"i":147.9,"v":33.39},{"i":150.4,"v":33.40},{"i":152.9,"v":33.37},{"i":155.4,"v":33.33},{"i":157.9,"v":33.31},{"i":160.4,"v":33.29},{"i":162.9,"v":33.27},{"i":165.4,"v":33.26},{"i":167.9,"v":33.29},{"i":170.4,"v":33.34},{"i":172.9,"v":33.36},{"i":175.4,"v":33.37},{"i":177.9,"v":33.40},{"i":180.4,"v":33.49},{"i":182.5,"v":33.54},{"i":185,"v":33.62},{"i":187.5,"v":33.69},{"i":190.8,"v":33.73},{"i":193.3,"v":33.76},{"i":195.8,"v":33.76},{"i":198.3,"v":33.76},{"i":200.8,"v":33.77},{"i":203.3,"v":33.77},{"i":205.8,"v":33.78},{"i":207.5,"v":33.73},{"i":210,"v":33.54},{"i":213.3,"v":33.29},{"i":216.7,"v":32.88},{"i":220,"v":32.59},{"i":223.3,"v":32.25},{"i":226.7,"v":32.00},{"i":230,"v":31.76},{"i":232.5,"v":31.59},{"i":236.7,"v":31.49},{"i":240,"v":31.40},{"i":242.5,"v":31.38},{"i":245,"v":31.42},{"i":247.5,"v":31.49},{"i":250,"v":31.55},{"i":253.3,"v":31.63},{"i":256.7,"v":31.71},{"i":260,"v":31.78},{"i":262.5,"v":31.84},{"i":265,"v":31.94},{"i":267.5,"v":31.97},{"i":270,"v":32.01},{"i":272.5,"v":32.08},{"i":273.8,"v":32.13},{"i":276.3,"v":32.17},{"i":278.8,"v":32.22},{"i":281.3,"v":32.26},{"i":283.8,"v":32.30},{"i":286.3,"v":32.34},{"i":288.8,"v":32.44},{"i":291.3,"v":32.54},{"i":293.8,"v":32.64},{"i":296.3,"v":32.73},{"i":297.9,"v":32.75},{"i":300.4,"v":32.76},{"i":302.9,"v":32.78},{"i":305.4,"v":32.79},{"i":307.9,"v":32.82},{"i":310.4,"v":32.86},{"i":312.9,"v":32.87},{"i":314.6,"v":32.87},{"i":317.1,"v":32.83},{"i":319.6,"v":32.80},{"i":322.1,"v":32.73},{"i":324.6,"v":32.70},{"i":327.1,"v":32.67},{"i":329.6,"v":32.62},{"i":332.1,"v":32.56},{"i":334.6,"v":32.55},{"i":337.1,"v":32.55},{"i":339.6,"v":32.59},{"i":342.1,"v":32.65},{"i":344.6,"v":32.67},{"i":347.1,"v":32.69},{"i":349.6,"v":32.67},{"i":352.1,"v":32.66},{"i":354.6,"v":32.64},{"i":357.1,"v":32.63},{"i":359.6,"v":32.63},{"i":362.1,"v":32.63},{"i":365,"v":32.60}],
"ema100": [{"i":0,"v":31.50},{"i":2.5,"v":31.57},{"i":5,"v":31.64},{"i":7.5,"v":31.66},{"i":10,"v":31.70},{"i":12.5,"v":31.73},{"i":15,"v":31.76},{"i":17.5,"v":31.80},{"i":20,"v":31.84},{"i":22.5,"v":31.90},{"i":25,"v":31.94},{"i":27.5,"v":31.99},{"i":30,"v":32.03},{"i":32.5,"v":32.08},{"i":35,"v":32.11},{"i":37.5,"v":32.13},{"i":40,"v":32.15},{"i":42.5,"v":32.16},{"i":45,"v":32.16},{"i":47.5,"v":32.15},{"i":50,"v":32.13},{"i":52.5,"v":32.10},{"i":55,"v":32.08},{"i":57.5,"v":32.08},{"i":60,"v":32.06},{"i":62.5,"v":32.02},{"i":65,"v":31.96},{"i":67.5,"v":31.92},{"i":70,"v":31.90},{"i":72.5,"v":31.88},{"i":75,"v":31.87},{"i":77.5,"v":31.86},{"i":80,"v":31.86},{"i":82.5,"v":31.89},{"i":85,"v":31.93},{"i":87.5,"v":31.96},{"i":90,"v":31.99},{"i":93.8,"v":32.01},{"i":96.3,"v":32.03},{"i":98.8,"v":32.05},{"i":101.3,"v":32.07},{"i":103.8,"v":32.07},{"i":106.3,"v":32.09},{"i":108.8,"v":32.12},{"i":111.3,"v":32.15},{"i":113.8,"v":32.19},{"i":116.3,"v":32.23},{"i":118.8,"v":32.29},{"i":121.3,"v":32.36},{"i":123.8,"v":32.44},{"i":126.3,"v":32.52},{"i":128.8,"v":32.59},{"i":131.3,"v":32.63},{"i":133.8,"v":32.69},{"i":136.3,"v":32.76},{"i":138.8,"v":32.83},{"i":141.3,"v":32.89},{"i":143.8,"v":32.92},{"i":146.3,"v":32.94},{"i":148.8,"v":32.96},{"i":151.3,"v":32.99},{"i":152.9,"v":33.00},{"i":155.4,"v":32.99},{"i":157.9,"v":32.99},{"i":160.4,"v":32.99},{"i":162.9,"v":32.99},{"i":165.4,"v":33.01},{"i":167.9,"v":33.03},{"i":170.4,"v":33.06},{"i":172.9,"v":33.09},{"i":175.4,"v":33.12},{"i":177.9,"v":33.14},{"i":180.4,"v":33.20},{"i":182.5,"v":33.23},{"i":185,"v":33.29},{"i":187.5,"v":33.34},{"i":190,"v":33.37},{"i":192.5,"v":33.40},{"i":195,"v":33.42},{"i":197.5,"v":33.45},{"i":200,"v":33.46},{"i":203.3,"v":33.47},{"i":205.8,"v":33.49},{"i":207.5,"v":33.47},{"i":210,"v":33.40},{"i":214.2,"v":33.25},{"i":217.5,"v":33.00},{"i":220.8,"v":32.84},{"i":224.2,"v":32.63},{"i":227.5,"v":32.50},{"i":230.8,"v":32.32},{"i":234.2,"v":32.22},{"i":237.5,"v":32.16},{"i":240.8,"v":32.07},{"i":243.3,"v":32.03},{"i":245.8,"v":32.01},{"i":249.2,"v":32.03},{"i":252.5,"v":32.04},{"i":255.8,"v":32.05},{"i":259.2,"v":32.06},{"i":261.7,"v":32.09},{"i":264.2,"v":32.13},{"i":266.7,"v":32.14},{"i":269.2,"v":32.15},{"i":271.7,"v":32.17},{"i":273.8,"v":32.20},{"i":276.3,"v":32.23},{"i":278.8,"v":32.24},{"i":281.3,"v":32.27},{"i":283.8,"v":32.30},{"i":286.3,"v":32.33},{"i":288.8,"v":32.37},{"i":291.3,"v":32.42},{"i":293.8,"v":32.47},{"i":296.3,"v":32.53},{"i":298.8,"v":32.56},{"i":301.3,"v":32.57},{"i":303.8,"v":32.59},{"i":306.3,"v":32.60},{"i":308.8,"v":32.64},{"i":311.3,"v":32.66},{"i":313.8,"v":32.67},{"i":316.3,"v":32.67},{"i":318.8,"v":32.66},{"i":321.3,"v":32.64},{"i":323.8,"v":32.62},{"i":326.3,"v":32.61},{"i":328.8,"v":32.59},{"i":331.3,"v":32.57},{"i":333.8,"v":32.56},{"i":336.3,"v":32.55},{"i":338.8,"v":32.56},{"i":341.3,"v":32.59},{"i":343.8,"v":32.61},{"i":346.3,"v":32.62},{"i":348.8,"v":32.62},{"i":351.3,"v":32.62},{"i":353.8,"v":32.61},{"i":356.3,"v":32.60},{"i":358.8,"v":32.60},{"i":361.3,"v":32.61},{"i":363.8,"v":32.61},{"i":365,"v":32.60}],
"notes": [{"t":"20 periyotluk üstel hareketli ortalama"},{"t":"50 periyotluk üstel hareketli ortalama"},{"t":"100 periyotluk üstel hareketli ortalama"}]
},
"resolve": {"axis": {"y": "independent"}},
"layer": [
{"data": {"name": "levels"},
 "mark": {"type": "rule", "color": "black", "strokeWidth": 1, "strokeDash": [4, 3]},
 "encoding": {"y": {"field": "p", "type": "quantitative", "scale": {"domain": [28.108, 34.912], "nice": false, "zero": false},
   "axis": {"orient": "right", "title": null, "values": [34.575,34.434,34.134,33.855,33.496,33.176,32.854,32.580,32.285,32.033,31.782,31.484,31.184,30.918,30.576,30.319,30.045,29.710,29.326,29.052,28.700,28.272],
     "format": ".3f", "offset": 2, "tickSize": 42, "tickWidth": 13, "tickCap": "butt", "tickColor": "black", "tickOffset": -1,
     "labelColor": "white", "labelPadding": -37, "labelAlign": "left", "labelBaseline": "middle", "labelOffset": -1,
     "labelOverlap": false, "labelBound": false, "labelFlush": false, "domain": false, "zindex": 2}}}},
{"data": {"name": "bid"},
 "mark": {"type": "rule", "color": "#c0c0c0", "strokeWidth": 1},
 "encoding": {"y": {"field": "p", "type": "quantitative", "axis": null}}},
{"data": {"name": "candles"},
 "mark": {"type": "rule", "color": "black", "strokeWidth": 1},
 "encoding": {
   "x": {"field": "i", "type": "quantitative", "scale": {"domain": [-0.125, 458.625], "nice": false, "zero": false},
     "axis": {"orient": "bottom", "title": null, "values": [0,24,48,72,96,120,144,168,192,216,240,264,288,312,336,360],
       "labelExpr": "datum.value == 0 ? '13 Feb 2025' : datum.value == 24 ? '19 Feb 18:01' : datum.value == 48 ? '25 Feb 18:01' : datum.value == 72 ? '3 Mar 18:01' : datum.value == 96 ? '7 Mar 18:01' : datum.value == 120 ? '13 Mar 17:01' : datum.value == 144 ? '19 Mar 17:01' : datum.value == 168 ? '25 Mar 17:01' : datum.value == 192 ? '31 Mar 17:01' : datum.value == 216 ? '4 Apr 17:01' : datum.value == 240 ? '10 Apr 17:01' : datum.value == 264 ? '16 Apr 17:01' : datum.value == 288 ? '23 Apr 17:01' : datum.value == 312 ? '29 Apr 17:01' : datum.value == 336 ? '5 May 17:01' : '9 May 17:01'",
       "tickSize": 4, "tickColor": "black", "labelColor": "black", "labelFontSize": 12.5, "labelAlign": "left", "labelBaseline": "top", "labelPadding": 2, "labelOffset": -3, "labelOverlap": false, "labelBound": false, "labelFlush": false, "domain": false, "grid": false, "zindex": 1}},
   "y": {"field": "l", "type": "quantitative",
     "axis": {"orient": "right", "title": null, "values": [28.256,28.677,29.098,29.519,29.94,30.361,30.782,31.203,31.624,32.045,32.466,32.887,33.308,33.729,34.15,34.571],
       "format": ".3f", "tickSize": 4, "labelPadding": 3, "labelAlign": "left", "labelBaseline": "middle", "labelOverlap": false, "labelBound": false, "labelFlush": false, "domain": false, "zindex": 1}},
   "y2": {"field": "h"}}},
{"data": {"name": "candles"},
 "mark": {"type": "bar", "size": 2, "stroke": "black", "strokeWidth": 1},
 "encoding": {
   "x": {"field": "i", "type": "quantitative"},
   "y": {"field": "o", "type": "quantitative", "axis": null},
   "y2": {"field": "c"},
   "fill": {"condition": {"test": "datum.c >= datum.o", "value": "white"}, "value": "black"}}},
{"data": {"name": "ema100"},
 "mark": {"type": "line", "color": "#ff0000", "strokeWidth": 2},
 "encoding": {"x": {"field": "i", "type": "quantitative"}, "y": {"field": "v", "type": "quantitative", "axis": null}}},
{"data": {"name": "ema50"},
 "mark": {"type": "line", "color": "#0000ff", "strokeWidth": 2},
 "encoding": {"x": {"field": "i", "type": "quantitative"}, "y": {"field": "v", "type": "quantitative", "axis": null}}},
{"data": {"name": "ema20"},
 "mark": {"type": "line", "color": "#00ff00", "strokeWidth": 2},
 "encoding": {"x": {"field": "i", "type": "quantitative"}, "y": {"field": "v", "type": "quantitative", "axis": null}}},
{"data": {"name": "header"},
 "mark": {"type": "text", "align": "left", "baseline": "middle", "fontSize": 12, "font": "Liberation Sans", "color": "black"},
 "encoding": {"text": {"field": "t"}, "x": {"datum": 0.6, "type": "quantitative"}, "y": {"datum": 34.826, "type": "quantitative", "axis": null}}},
{"data": {"name": "header"},
 "mark": {"type": "point", "shape": "triangle-down", "filled": true, "color": "#a0a0a0", "size": 40, "opacity": 1},
 "encoding": {"x": {"datum": 366, "type": "quantitative"}, "y": {"datum": 34.88, "type": "quantitative", "axis": null}}},
{"data": {"name": "notes"}, "transform": [{"filter": "datum.t[0] == '2'"}],
 "mark": {"type": "text", "align": "right", "baseline": "middle", "fontSize": 16, "font": "Liberation Sans", "color": "#00ff00"},
 "encoding": {"text": {"field": "t"}, "x": {"datum": 456.5, "type": "quantitative"}, "y": {"datum": 29.171, "type": "quantitative", "axis": null}}},
{"data": {"name": "notes"}, "transform": [{"filter": "datum.t[0] == '5'"}],
 "mark": {"type": "text", "align": "right", "baseline": "middle", "fontSize": 16, "font": "Liberation Sans", "color": "#0000ff"},
 "encoding": {"text": {"field": "t"}, "x": {"datum": 456.5, "type": "quantitative"}, "y": {"datum": 28.845, "type": "quantitative", "axis": null}}},
{"data": {"name": "notes"}, "transform": [{"filter": "datum.t[0] == '1'"}],
 "mark": {"type": "text", "align": "right", "baseline": "middle", "fontSize": 16, "font": "Liberation Sans", "color": "#ff0000"},
 "encoding": {"text": {"field": "t"}, "x": {"datum": 456.5, "type": "quantitative"}, "y": {"datum": 28.477, "type": "quantitative", "axis": null}}}
]
}
